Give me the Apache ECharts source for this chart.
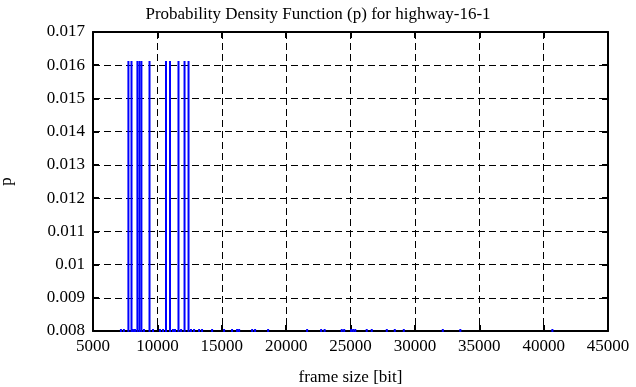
<!DOCTYPE html>
<html>
<head>
<meta charset="utf-8">
<script src="https://cdn.jsdelivr.net/npm/echarts@6/dist/echarts.min.js"></script>
<style>
html,body{margin:0;padding:0;background:#fff;}
#chart{width:636px;height:387px;}
</style>
</head>
<body>
<div id="chart"></div>
<script>
// ---- data ----
const titleText = 'Probability Density Function (p) for highway-16-1';
const xName = 'frame size [bit]';
const yName = 'p';
const xMin = 5000, xMax = 45000, xStep = 5000;
const yMin = 0.008, yMax = 0.017, yStep = 0.001;

// frame sizes whose density reaches ~0.0161
const peakSizes = [7750, 7990, 8450, 8610, 8760, 9390, 10670, 10980, 11640, 12110, 12420];
const peakP     = [0.01613, 0.01613, 0.01613, 0.01613, 0.01613, 0.01613, 0.01613, 0.01613, 0.01613, 0.01613, 0.01613];

// frame sizes whose density is below the plotted range (only visible at the bottom edge)
const lowSizes = [7170, 7400, 8100, 8260, 8960, 9660, 10200, 10440, 11210, 11370, 11840, 12610, 12850,
                  13240, 13470, 14250, 15180, 15800, 16190, 16350, 17360, 17590, 18600, 21630, 22720,
                  22990, 24320, 24510, 25050, 25210, 25370, 26260, 26650, 27820, 28440, 29140, 32170,
                  33530, 40680];
const lowP = [0.003, 0.003, 0.003, 0.003, 0.003, 0.003, 0.003, 0.003, 0.003, 0.003, 0.003, 0.003, 0.003,
              0.003, 0.003, 0.003, 0.003, 0.003, 0.003, 0.003, 0.003, 0.003, 0.003, 0.003, 0.003,
              0.003, 0.003, 0.003, 0.003, 0.003, 0.003, 0.003, 0.003, 0.003, 0.003, 0.003, 0.003,
              0.003, 0.003];

// ---- build ----
const points = [];
peakSizes.forEach((s, i) => points.push([s, peakP[i]]));
lowSizes.forEach((s, i) => points.push([s, lowP[i]]));

const FONT = '"Liberation Serif", "DejaVu Serif", serif';
const gridLine = {show: true, lineStyle: {color: '#000', type: [7, 4], width: 1}};

function renderImpulse(params, api) {
  const x = api.value(0), p = api.value(1);
  const base = api.coord([x, yMin]);
  const tip = api.coord([x, Math.max(p, yMin)]);
  const top = Math.min(tip[1], base[1] - 2);
  return {
    type: 'rect',
    shape: {x: base[0] - 1, y: top, width: 2, height: base[1] - top + 1},
    style: {fill: '#0000ff'}
  };
}

const chart = echarts.init(document.getElementById('chart'), null, {renderer: 'canvas'});
chart.setOption({
  animation: false,
  backgroundColor: '#fff',
  title: {
    text: titleText, left: 'center', top: 1,
    textStyle: {fontFamily: FONT, fontSize: 17, fontWeight: 'normal', color: '#000'}
  },
  grid: {left: 93, right: 28, top: 32, bottom: 56, containLabel: false, outerBoundsMode: 'none'},
  xAxis: [{
    type: 'value', min: xMin, max: xMax, interval: xStep, position: 'bottom',
    name: xName, nameLocation: 'middle', nameGap: 38,
    nameTextStyle: {fontFamily: FONT, fontSize: 17, color: '#000'},
    axisLine: {show: true, lineStyle: {color: '#000', width: 2}},
    axisTick: {show: true, inside: true, length: 6, lineStyle: {color: '#000', width: 2}},
    axisLabel: {fontFamily: FONT, fontSize: 17, color: '#000', margin: 7, formatter: v => String(v)},
    splitLine: gridLine
  }, {
    type: 'value', min: xMin, max: xMax, interval: xStep, position: 'top',
    axisLine: {show: true, lineStyle: {color: '#000', width: 2}},
    axisTick: {show: true, inside: true, length: 6, lineStyle: {color: '#000', width: 2}},
    axisLabel: {show: false}, splitLine: {show: false}
  }],
  yAxis: [{
    type: 'value', min: yMin, max: yMax, interval: yStep, position: 'left',
    name: yName, nameLocation: 'middle', nameGap: 78, nameRotate: 90,
    nameTextStyle: {fontFamily: FONT, fontSize: 17, color: '#000'},
    axisLine: {show: true, lineStyle: {color: '#000', width: 2}},
    axisTick: {show: true, inside: true, length: 6, lineStyle: {color: '#000', width: 2}},
    axisLabel: {fontFamily: FONT, fontSize: 17, color: '#000', margin: 8},
    splitLine: gridLine
  }, {
    type: 'value', min: yMin, max: yMax, interval: yStep, position: 'right',
    axisLine: {show: true, lineStyle: {color: '#000', width: 2}},
    axisTick: {show: true, inside: true, length: 6, lineStyle: {color: '#000', width: 2}},
    axisLabel: {show: false}, splitLine: {show: false}
  }],
  series: [{
    type: 'custom', xAxisIndex: 0, yAxisIndex: 0, z: 10,
    renderItem: renderImpulse,
    data: points, clip: false
  }]
});
</script>
</body>
</html>
